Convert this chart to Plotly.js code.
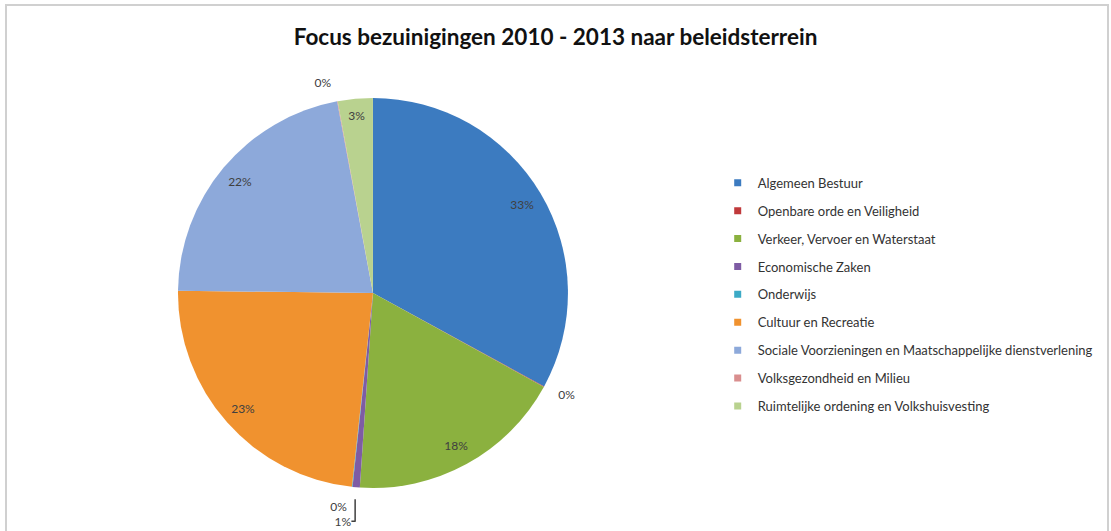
<!DOCTYPE html>
<html><head><meta charset="utf-8">
<script src="https://cdn.plot.ly/plotly-3.0.1.min.js"></script>
<style>html,body{margin:0;padding:0;background:#fff;} #chart{width:1111px;height:531px;}</style>
</head><body><div id="chart"></div>
<script>
const categories = [
  "Algemeen Bestuur",
  "Openbare orde en Veiligheid",
  "Verkeer, Vervoer en Waterstaat",
  "Economische Zaken",
  "Onderwijs",
  "Cultuur en Recreatie",
  "Sociale Voorzieningen en Maatschappelijke dienstverlening",
  "Volksgezondheid en Milieu",
  "Ruimtelijke ordening en Volkshuisvesting"
];
const shares = [33.0, 0.05, 18.1, 0.6, 0.05, 23.5, 21.9, 0.05, 2.9];
const colors = ["#3C7BC0", "#C0393B", "#8BB13F", "#7E5CA4", "#3CAAC6", "#F0922F", "#8DA9DA", "#D98E8E", "#B9D28F"];

const isSmall = shares.map(v => v < 1);
const pctTpl = "%{percent:.0%}";
const labelColor = "#404040";
const fontFam = "Lato, 'Open Sans', sans-serif";
const clear = categories.map(() => "rgba(0,0,0,0)");
// pie centre (373, 293) px, radius 195 px
const dom = {x: [0.1602, 0.5112], y: [0.0810, 0.8154]};
const domOuter = {x: [0.1494, 0.5220], y: [0.0584, 0.8380]};

const common = {type: "pie", labels: categories, values: shares, sort: false, direction: "clockwise", rotation: 0, showlegend: false};

const mainPie = Object.assign({}, common, {
  domain: dom, marker: {colors: colors, line: {width: 0}},
  textposition: "none", textinfo: "none", hoverinfo: "label+percent"
});
const labelRing = Object.assign({}, common, {
  domain: dom, hole: 0.78, marker: {colors: clear, line: {width: 0}},
  textposition: isSmall.map(s => s ? "none" : "inside"),
  texttemplate: isSmall.map(s => s ? "" : pctTpl),
  insidetextorientation: "horizontal",
  textfont: {family: fontFam, size: 12, color: labelColor},
  insidetextfont: {family: fontFam, size: 12, color: labelColor},
  hoverinfo: "skip"
});
const outerLabels = Object.assign({}, common, {
  domain: domOuter, marker: {colors: clear, line: {width: 0}},
  textposition: isSmall.map(s => s ? "outside" : "none"),
  texttemplate: isSmall.map(s => s ? pctTpl : ""),
  textfont: {family: fontFam, size: 12, color: labelColor},
  outsidetextfont: {family: fontFam, size: 12, color: labelColor},
  hoverinfo: "skip"
});
const legendTraces = categories.map((c, i) => ({
  type: "scatter", mode: "markers", x: [null], y: [null], name: c,
  legendgroup: "g" + i, showlegend: true,
  marker: {symbol: "square", size: 7, color: colors[i]}
}));

const layout = {
  width: 1111, height: 531,
  margin: {l: 0, r: 0, t: 0, b: 0},
  paper_bgcolor: "#fff", plot_bgcolor: "#fff",
  font: {family: fontFam, color: "#333"},
  title: {text: "Focus bezuinigingen 2010 - 2013 naar beleidsterrein", x: 0.5, xanchor: "center",
          y: 0.931, yref: "container", yanchor: "middle",
          font: {family: fontFam, size: 22.5, color: "#111", weight: "bold"}},
  xaxis: {visible: false}, yaxis: {visible: false},
  legend: {x: 0.646, xanchor: "left", y: 0.684, yanchor: "top", tracegroupgap: 8,
           font: {family: fontFam, size: 13, color: "#333"}, bgcolor: "rgba(0,0,0,0)"},
  shapes: [{type: "rect", xref: "paper", yref: "paper", x0: 6/1111, x1: 1108/1111, y0: -0.1, y1: 1 - 5/531,
            line: {color: "#d0d0d0", width: 2}, fillcolor: "rgba(0,0,0,0)"}]
};
Plotly.newPlot("chart", [mainPie, labelRing, outerLabels].concat(legendTraces), layout, {displayModeBar: false, staticPlot: true});
</script></body></html>
